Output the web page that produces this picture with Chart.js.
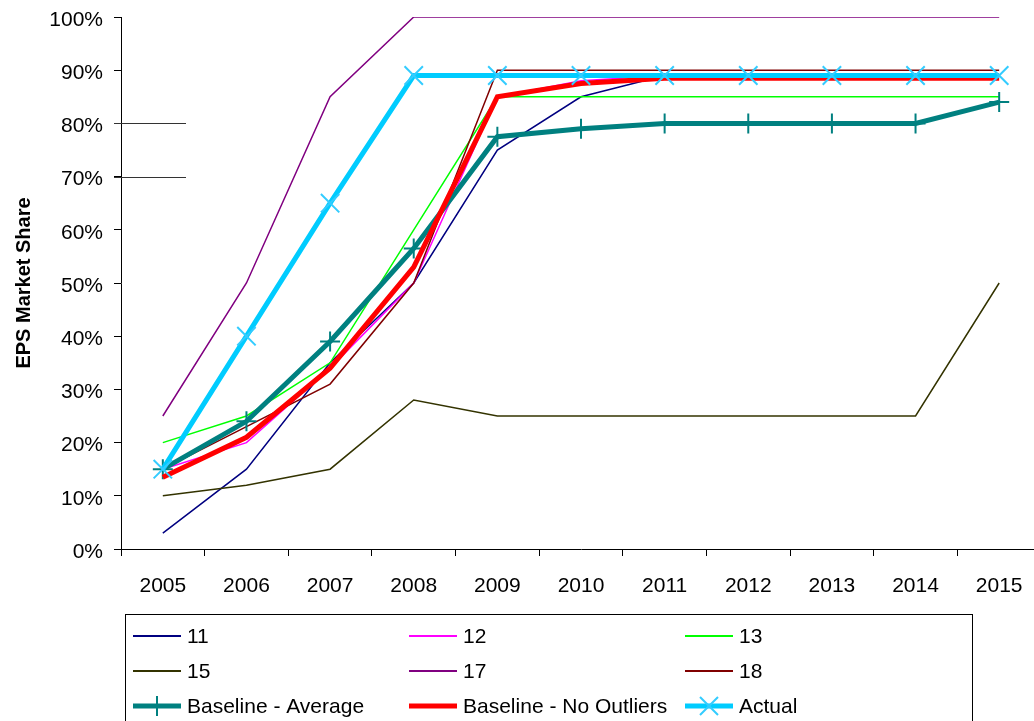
<!DOCTYPE html>
<html>
<head>
<meta charset="utf-8">
<script src="https://cdn.jsdelivr.net/npm/chart.js"></script>
<style>
  html, body { margin: 0; padding: 0; background: #fff; overflow: hidden; }
  #wrap { width: 1056px; height: 721px; }
</style>
</head>
<body>
<div id="wrap"><canvas id="chart" width="1056" height="721"></canvas></div>
<script>
// years on the x axis
const years = ['2005', '2006', '2007', '2008', '2009', '2010', '2011', '2012', '2013', '2014', '2015'];

// market share (%) per respondent
const s11 = [3, 15, 35, 50, 75, 85, 89, 89, 89, 89, 89];
const s12 = [15, 20, 34, 50, 85, 88, 89, 89, 89, 89, 89];
const s13 = [20, 25, 35, 60, 85, 85, 85, 85, 85, 85, 85];
const s15 = [10, 12, 15, 28, 25, 25, 25, 25, 25, 25, 50];
const s17 = [25, 50, 85, 100, 100, 100, 100, 100, 100, 100, 100];
const s18 = [15, 23, 31, 50, 90, 90, 90, 90, 90, 90, 90];

// baselines and actual
const baselineAverage = [15, 24, 39, 56.5, 77.5, 79, 80, 80, 80, 80, 84];
const baselineNoOutliers = [13.5, 21, 34, 53, 85, 87.5, 88.5, 88.5, 88.5, 88.5, 88.5];
const actual = [15, 40, 65, 89, 89, 89, 89, 89, 89, 89, 89];

const yTicks = [0, 10, 20, 30, 40, 50, 60, 70, 80, 90, 100];
const stubLevels = [70, 80];

Chart.defaults.font.family = '"Liberation Sans", Arial, sans-serif';
Chart.defaults.font.size = 21;
Chart.defaults.color = '#000';

function thin(label, data, color) {
  return { label, data, borderColor: color, backgroundColor: color, borderWidth: 1.5, pointRadius: 0, pointHoverRadius: 0, tension: 0 };
}

const datasets = [
  thin('11', s11, '#000080'),
  thin('12', s12, '#FF00FF'),
  thin('13', s13, '#00FF00'),
  thin('15', s15, '#333300'),
  thin('17', s17, '#800080'),
  thin('18', s18, '#800000'),
  {
    label: 'Baseline - Average', data: baselineAverage,
    borderColor: '#008080', backgroundColor: '#008080', borderWidth: 5,
    pointStyle: 'cross', pointRadius: 10, pointBorderWidth: 2, pointBorderColor: '#008080'
  },
  {
    label: 'Baseline - No Outliers', data: baselineNoOutliers,
    borderColor: '#FF0000', backgroundColor: '#FF0000', borderWidth: 5, pointRadius: 0
  },
  {
    label: 'Actual', data: actual,
    borderColor: '#00CCFF', backgroundColor: '#00CCFF', borderWidth: 5,
    pointStyle: 'crossRot', pointRadius: 13, pointBorderWidth: 2, pointBorderColor: '#33CCFF'
  }
];
// later series are painted on top
datasets.forEach((d, i) => { d.order = datasets.length - i; });

// boxed three-column legend under the axis
const boxLegend = {
  id: 'boxLegend',
  afterDraw(chart) {
    const ctx = chart.ctx;
    ctx.save();
    ctx.strokeStyle = '#000';
    ctx.lineWidth = 1;
    ctx.strokeRect(125.5, 614.5, 847, 130);
    ctx.font = '21px "Liberation Sans", Arial, sans-serif';
    ctx.textBaseline = 'middle';
    ctx.fillStyle = '#000';
    chart.data.datasets.forEach((ds, i) => {
      const x = 133 + (i % 3) * 276;
      const y = 636 + Math.floor(i / 3) * 35;
      ctx.strokeStyle = ds.borderColor;
      ctx.lineWidth = ds.borderWidth > 2 ? 5 : 2;
      ctx.beginPath();
      ctx.moveTo(x, y);
      ctx.lineTo(x + 48, y);
      ctx.stroke();
      if (ds.pointRadius) {
        const cx = x + 24;
        ctx.strokeStyle = ds.pointBorderColor;
        ctx.lineWidth = 2;
        ctx.beginPath();
        if (ds.pointStyle === 'cross') {
          ctx.moveTo(cx, y - 10); ctx.lineTo(cx, y + 10);
          ctx.moveTo(cx - 10, y); ctx.lineTo(cx + 10, y);
        } else {
          const r = 9;
          ctx.moveTo(cx - r, y - r); ctx.lineTo(cx + r, y + r);
          ctx.moveTo(cx - r, y + r); ctx.lineTo(cx + r, y - r);
        }
        ctx.stroke();
      }
      ctx.fillText(ds.label, x + 54, y + 1);
    });
    ctx.restore();
  }
};

// short gray guide stubs crossing the value axis
const axisStubs = {
  id: 'axisStubs',
  afterDatasetsDraw(chart) {
    const { ctx, chartArea, scales } = chart;
    ctx.save();
    ctx.strokeStyle = '#333';
    ctx.lineWidth = 1;
    stubLevels.forEach(v => {
      const y = Math.round(scales.y.getPixelForValue(v)) + 0.5;
      ctx.beginPath();
      ctx.moveTo(chartArea.left - 7, y);
      ctx.lineTo(chartArea.left + 65, y);
      ctx.stroke();
    });
    ctx.restore();
  }
};

new Chart(document.getElementById('chart'), {
  type: 'line',
  data: { labels: years, datasets },
  options: {
    responsive: false,
    animation: false,
    layout: { padding: { top: 17, right: 0, left: 0, bottom: 0 } },
    plugins: { legend: { display: false }, tooltip: { enabled: false } },
    scales: {
      x: {
        offset: true,
        grid: { offset: true, drawOnChartArea: false, tickLength: 7, color: '#000' },
        border: { color: '#000', width: 1 },
        ticks: { padding: 18, maxRotation: 0, font: { size: 21 } },
        afterFit(scale) { scale.height = 172; scale.paddingLeft = 0; scale.paddingRight = 0; }
      },
      y: {
        min: 0,
        max: 100,
        afterBuildTicks(scale) { scale.ticks = yTicks.map(v => ({ value: v })); },
        grid: { drawOnChartArea: false, tickLength: 7, color: '#000' },
        border: { color: '#000', width: 1 },
        ticks: { padding: 11, labelOffset: 3, font: { size: 21 }, callback: v => v + '%' },
        title: { display: true, text: 'EPS Market Share', font: { size: 20, weight: 'bold' }, padding: { top: 12, bottom: 0 } },
        afterFit(scale) { scale.width = 121; scale.paddingTop = 0; scale.paddingBottom = 0; }
      }
    }
  },
  plugins: [axisStubs, boxLegend]
});
</script>
</body>
</html>
